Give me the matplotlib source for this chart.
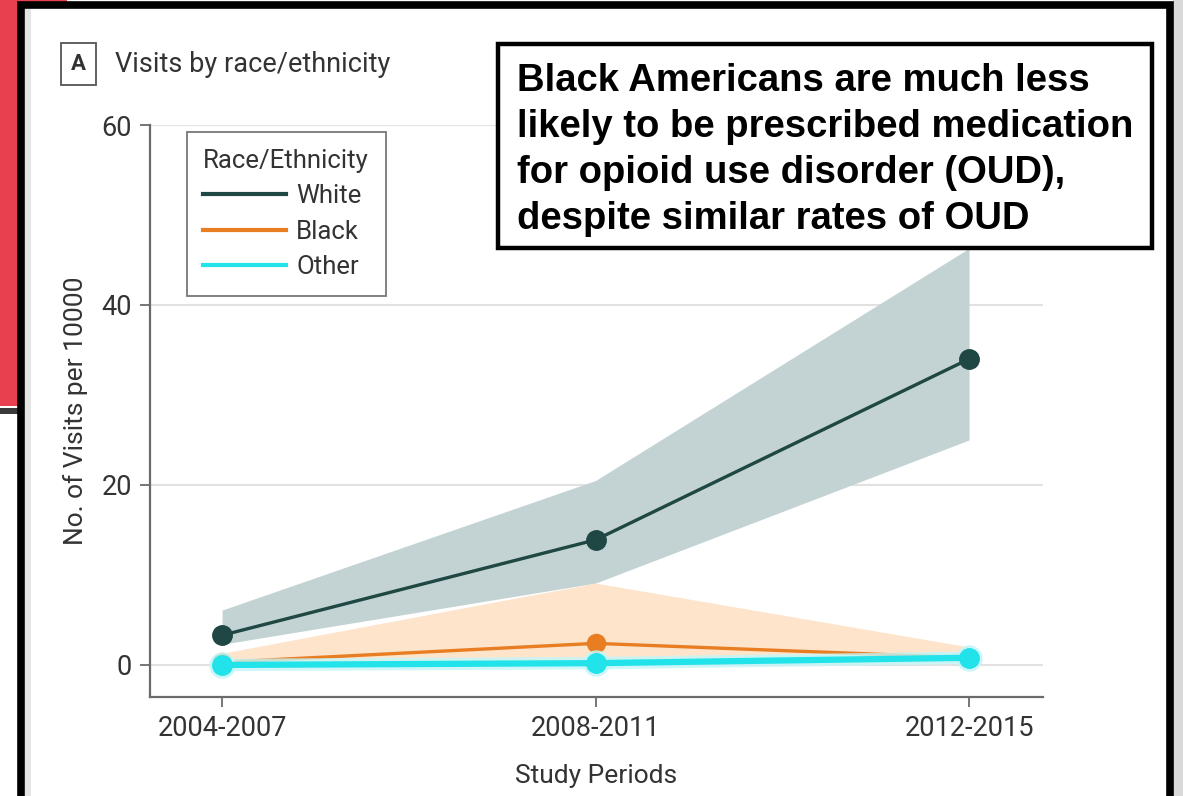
import matplotlib
matplotlib.use("Agg")
import matplotlib.pyplot as plt
from matplotlib.patches import Rectangle

W, H = 1183, 796

periods = ["2004-2007", "2008-2011", "2012-2015"]
series = ["White", "Black", "Other"]

white = [3.3, 13.9, 34.0]
white_lo = [2.3, 9.1, 25.0]
white_hi = [6.1, 20.5, 46.3]

black = [0.3, 2.4, 0.8]
black_lo = [0.0, 0.0, 0.3]
black_hi = [1.3, 9.1, 2.0]

other = [0.0, 0.2, 0.8]
other_lo = [0.0, 0.0, 0.3]
other_hi = [0.3, 0.6, 1.5]

yticks = [0, 20, 40, 60]

FONT = "Roboto"
plt.rcParams["font.family"] = [FONT, "DejaVu Sans"]

fig = plt.figure(figsize=(W / 100, H / 100), dpi=100)
fig.patch.set_facecolor("white")


def px_rect(x0, y0, x1, y1, **kw):
    """Rectangle given in pixel coords measured from the top-left corner."""
    r = Rectangle((x0 / W, 1 - y1 / H), (x1 - x0) / W, (y1 - y0) / H,
                  transform=fig.transFigure, **kw)
    fig.add_artist(r)
    return r


# slide decoration behind the chart panel
px_rect(0, -2, 67, 406, facecolor="#e8404f", edgecolor="none", zorder=-30)
px_rect(0, 408, 22, 414, facecolor="#3a3a3a", edgecolor="none", zorder=-29)
# soft shadow at the right edge
px_rect(1173, 0, 1183, 796, facecolor="#d9d9d9", edgecolor="none", zorder=-29)
# chart panel with heavy black frame
px_rect(21, 5, 1170, 805, facecolor="white", edgecolor="black",
        linewidth=5.5, zorder=-20)
px_rect(25, 9, 31, 796, facecolor="#e4e4e4", edgecolor="none", zorder=-19)

ax = fig.add_axes([150 / W, (H - 697) / H, 893 / W, 572 / H])
ax.set_facecolor("none")
ax.set_zorder(1)

x = list(range(len(periods)))

ax.fill_between(x, white_lo, white_hi, color="#c3d3d4", linewidth=0, zorder=1)
ax.fill_between(x, black_lo, black_hi, color="#fde2c6", linewidth=0,
                alpha=0.9, zorder=2)
ax.fill_between(x, other_lo, other_hi, color="#bff3f4", linewidth=0,
                alpha=0.6, zorder=2)

ax.plot(x, white, color="#1f4744", lw=2.4, marker="o", ms=14,
        label="White", zorder=5)
ax.plot(x, black, color="#e87d22", lw=2.4, marker="o", ms=13,
        label="Black", zorder=5)
# glow under the cyan line
ax.plot(x, other, color="#c4f6f8", lw=9, marker="o", ms=18, zorder=5.5,
        solid_capstyle="round", alpha=0.8)
ax.plot(x, other, color="#22e2ea", lw=4.5, marker="o", ms=14,
        label="Other", zorder=6)

ax.set_xlim(-0.193, 2.198)
ax.set_ylim(-3.56, 60)
ax.set_xticks(x)
ax.set_xticklabels(periods)
ax.set_yticks(yticks)

for s in ("top", "right"):
    ax.spines[s].set_visible(False)
for s in ("left", "bottom"):
    ax.spines[s].set_color("#6b6b6b")
    ax.spines[s].set_linewidth(1.6)

ax.grid(axis="y", color="#e2e2e2", lw=1.5, zorder=0)
ax.set_axisbelow(True)
ax.tick_params(axis="both", length=7, width=1.3, color="#6b6b6b",
               labelsize=19.5, labelcolor="#333333", pad=6)

ax.set_xlabel("Study Periods", fontsize=19, color="#333333", labelpad=16)
ax.set_ylabel("No. of Visits per 10000", fontsize=19, color="#333333",
              labelpad=10)

handles, labels = ax.get_legend_handles_labels()
leg = ax.legend(handles[:3], labels[:3], title="Race/Ethnicity",
                loc="upper left", bbox_to_anchor=(0.041, 0.988),
                borderaxespad=0, fontsize=18.5, title_fontsize=18.5,
                handlelength=3.2, handletextpad=0.42, labelspacing=0.45,
                borderpad=0.65, frameon=True, fancybox=False,
                alignment="left", markerscale=0)
leg.get_frame().set_edgecolor("#555555")
leg.get_frame().set_linewidth(1.3)
for h in leg.legend_handles:
    h.set_marker("")
    h.set_linewidth(3)
for t in leg.get_texts():
    t.set_color("#333333")
leg.get_title().set_color("#333333")

# panel heading
fig.text(78 / W, 1 - 64 / H, "A", fontsize=16, fontweight="bold",
         color="#333333", ha="center", va="center",
         bbox=dict(boxstyle="square,pad=0.45", facecolor="white",
                   edgecolor="#555555", linewidth=1.3))
fig.text(115 / W, 1 - 65 / H, "Visits by race/ethnicity", fontsize=19.5,
         color="#333333", ha="left", va="center")

# call-out box
px_rect(498, 44, 1152, 248, facecolor="white", edgecolor="black",
        linewidth=3.2, zorder=10)
fig.text(517 / W, 1 - 63 / H,
         "Black Americans are much less\n"
         "likely to be prescribed medication\n"
         "for opioid use disorder (OUD),\n"
         "despite similar rates of OUD",
         fontsize=27.5, fontweight="bold", family="Liberation Sans",
         color="black", ha="left", va="top", linespacing=1.36, zorder=11)

fig.savefig("out.png", dpi=100)
